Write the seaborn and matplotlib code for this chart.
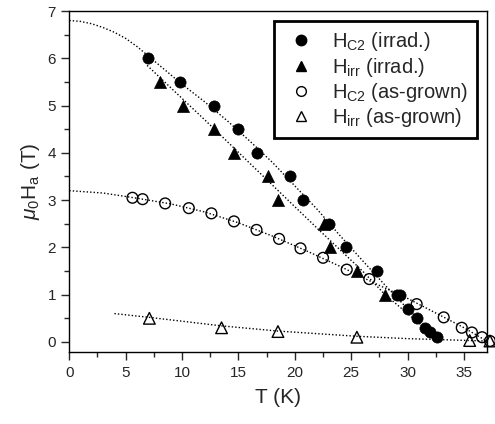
import numpy as np
import matplotlib
matplotlib.use("Agg")
import matplotlib.pyplot as plt
import seaborn as sns
from matplotlib.ticker import MultipleLocator
from matplotlib.lines import Line2D

# Hc2, irradiated (filled circles)
t_hc2_irr = [7.0, 9.8, 12.8, 15.0, 16.6, 19.6, 20.7, 23.0, 24.5, 27.3, 29.05, 29.3, 30.0, 30.8, 31.5, 32.0, 32.6]
h_hc2_irr = [6.0, 5.5, 5.0, 4.5, 4.0, 3.5, 3.0, 2.5, 2.0, 1.5, 1.0, 1.0, 0.7, 0.5, 0.3, 0.2, 0.1]

# Hirr, irradiated (filled triangles)
t_hirr_irr = [8.0, 10.1, 12.85, 14.6, 17.6, 18.5, 22.6, 23.1, 25.5, 28.0]
h_hirr_irr = [5.5, 5.0, 4.5, 4.0, 3.5, 3.0, 2.5, 2.0, 1.5, 1.0]

# Hc2, as-grown (open circles)
t_hc2_ag = [5.6, 6.5, 8.5, 10.6, 12.6, 14.6, 16.6, 18.6, 20.5, 22.5, 24.6, 26.6, 30.8, 33.2, 34.8, 35.7, 36.6, 37.3]
h_hc2_ag = [3.05, 3.02, 2.93, 2.83, 2.72, 2.55, 2.37, 2.18, 1.98, 1.78, 1.53, 1.33, 0.8, 0.52, 0.3, 0.2, 0.1, 0.02]

# Hirr, as-grown (open triangles)
t_hirr_ag = [7.1, 13.5, 18.5, 25.5, 35.5, 37.3]
h_hirr_ag = [0.5, 0.3, 0.22, 0.1, 0.03, 0.02]

# dotted guide curves
g1_t = [0, 1, 2, 3, 4, 5, 6, 7, 8, 10, 12, 14, 16, 18, 20, 22, 24, 26, 28, 30, 32, 33]
g1_h = [6.8, 6.78, 6.73, 6.65, 6.55, 6.42, 6.25, 6.05, 5.85, 5.45, 5.08, 4.68, 4.25, 3.8, 3.3, 2.8, 2.25, 1.72, 1.2, 0.7, 0.25, 0.05]
g2_t = [6.9, 12, 17, 22, 26, 28, 30, 32]
g2_h = [5.85, 4.7, 3.55, 2.4, 1.5, 1.0, 0.6, 0.2]
g3_t = [0, 3, 6, 9, 12, 15, 18, 21, 24, 27, 30, 33, 35, 37]
g3_h = [3.2, 3.15, 3.04, 2.92, 2.75, 2.52, 2.24, 1.93, 1.6, 1.25, 0.92, 0.55, 0.3, 0.02]
g4_t = [4, 7.1, 13.5, 18.5, 25.5, 30, 35.5, 37]
g4_h = [0.6, 0.52, 0.34, 0.23, 0.12, 0.07, 0.03, 0.02]

labels = [r"H$_{\rm C2}$ (irrad.)", r"H$_{\rm irr}$ (irrad.)",
          r"H$_{\rm C2}$ (as-grown)", r"H$_{\rm irr}$ (as-grown)"]

sns.set_style("ticks")
plt.rcParams["font.family"] = ["Liberation Sans", "DejaVu Sans"]
plt.rcParams["mathtext.fontset"] = "custom"
plt.rcParams["mathtext.rm"] = "Liberation Sans"
plt.rcParams["mathtext.it"] = "Liberation Sans:italic"
plt.rcParams["axes.linewidth"] = 1.0

fig = plt.figure(figsize=(4.95, 4.24), dpi=100)
ax = fig.add_axes([0.140, 0.169, 0.843, 0.805])

for gt, gh in [(g1_t, g1_h), (g2_t, g2_h), (g3_t, g3_h), (g4_t, g4_h)]:
    sns.lineplot(x=gt, y=gh, ax=ax, color="black", linestyle=(0, (1, 1.5)),
                 linewidth=1.0, sort=False, estimator=None)

sns.scatterplot(x=t_hc2_irr, y=h_hc2_irr, ax=ax, marker="o", s=65,
                color="black", edgecolor="black", linewidth=0.5, zorder=3)
sns.scatterplot(x=t_hirr_irr, y=h_hirr_irr, ax=ax, marker="^", s=75,
                color="black", edgecolor="black", linewidth=0.5, zorder=3)
sns.scatterplot(x=t_hc2_ag, y=h_hc2_ag, ax=ax, marker="o", s=60,
                facecolor="none", edgecolor="black", linewidth=1.0, zorder=3, clip_on=False)
sns.scatterplot(x=t_hirr_ag, y=h_hirr_ag, ax=ax, marker="^", s=70,
                facecolor="none", edgecolor="black", linewidth=1.0, zorder=3, clip_on=False)

ax.set_xlim(0, 37)
ax.set_ylim(-0.22, 7)
ax.xaxis.set_major_locator(MultipleLocator(5))
ax.xaxis.set_minor_locator(MultipleLocator(2.5))
ax.yaxis.set_major_locator(MultipleLocator(1))
ax.yaxis.set_minor_locator(MultipleLocator(0.5))
ax.tick_params(which="major", direction="out", length=6, width=1, labelsize=11)
ax.tick_params(which="minor", direction="out", length=3.5, width=1)
ax.tick_params(top=False, right=False)
for sp in ax.spines.values():
    sp.set_visible(True)
    sp.set_color("black")

ax.set_xlabel("T (K)", fontsize=15, labelpad=6)
ax.set_ylabel(r"$\mu_0$H$_{\rm a}$ (T)", fontsize=15, labelpad=4)

handles = [
    Line2D([], [], marker="o", ls="none", color="black", markersize=7.5),
    Line2D([], [], marker="^", ls="none", color="black", markersize=7.5),
    Line2D([], [], marker="o", ls="none", markerfacecolor="none", markeredgecolor="black", markersize=7),
    Line2D([], [], marker="^", ls="none", markerfacecolor="none", markeredgecolor="black", markersize=7),
]
leg = ax.legend(handles, labels, loc="upper right", fontsize=14.5, frameon=True,
                fancybox=False, edgecolor="black", framealpha=1,
                borderaxespad=0.5, handletextpad=0.7, labelspacing=0.12,
                handlelength=1.7, borderpad=0.45)
leg.get_frame().set_linewidth(2)

fig.savefig("out.png", dpi=100)
